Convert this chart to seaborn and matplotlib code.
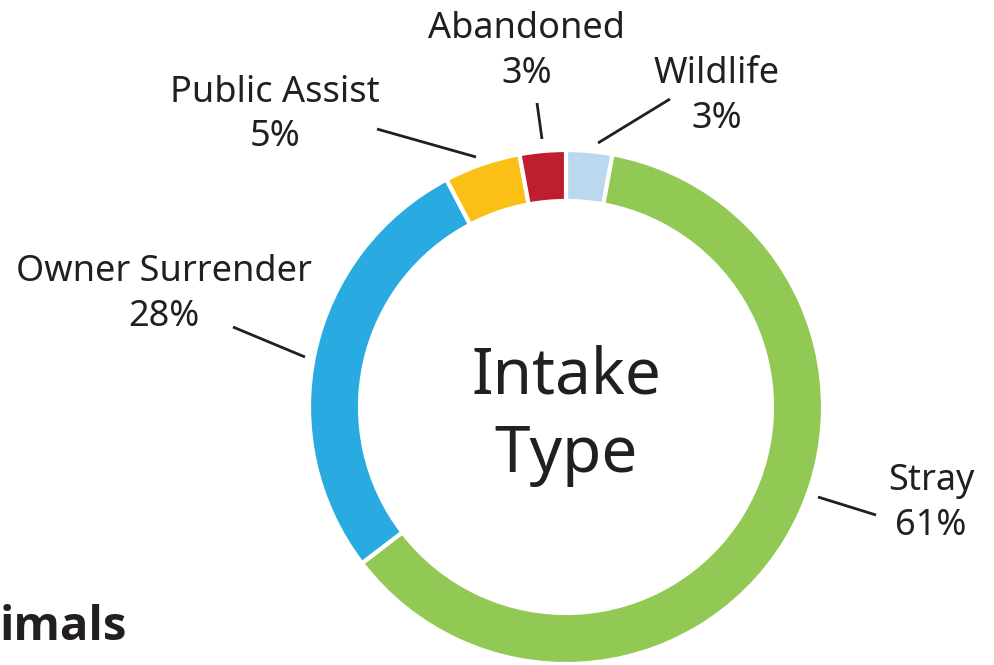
import matplotlib
matplotlib.use("Agg")
import matplotlib.pyplot as plt
import seaborn as sns

# ---- data ----
categories = ["Wildlife", "Stray", "Owner Surrender", "Public Assist", "Abandoned"]
values = [2.9, 61.7, 27.7, 4.8, 2.9]
pct_labels = ["3%", "61%", "28%", "5%", "3%"]
colors = ["#BBD8EE", "#92C955", "#29ABE2", "#FBC016", "#BE1E2D"]
center_title = ["Intake", "Type"]
corner_title = "imals"

sns.set_theme(style="white")
plt.rcParams["font.family"] = ["Noto Sans", "DejaVu Sans"]
TXT = "#231F20"

W, H = 994, 665
fig = plt.figure(figsize=(W / 100, H / 100), dpi=100)
ax = fig.add_axes([0, 0, 1, 1])
ax.set_xlim(0, W)
ax.set_ylim(H, 0)
ax.set_aspect("equal")
ax.axis("off")

pax = fig.add_axes([0, 0, 1, 1])
cx, cy, R, ring = 566, H - 407, 257, 51
pax.pie(values, colors=colors, startangle=90, counterclock=False,
        center=(cx, cy), radius=R, frame=True,
        wedgeprops=dict(width=ring, edgecolor="white", linewidth=3))
pax.set_xlim(0, W)
pax.set_ylim(0, H)
pax.set_aspect("equal")
pax.axis("off")

label_pos = {
    "Wildlife": (717, 83, 128),
    "Stray": (931, 490, 535),
    "Owner Surrender": (164, 281, 326),
    "Public Assist": (275, 102, 146),
    "Abandoned": (527, 38, 83),
}
leaders = {
    "Wildlife": ((670, 99), (598, 143)),
    "Stray": ((818, 497), (876, 515)),
    "Owner Surrender": ((233, 327), (305, 357)),
    "Public Assist": ((377, 129), (476, 157)),
    "Abandoned": ((537, 103), (542, 139)),
}
for name, pct in zip(categories, pct_labels):
    x, y1, y2 = label_pos[name]
    ax.text(x, y1, name, ha="center", va="baseline", fontsize=26, color=TXT)
    ax.text(x, y2, pct, ha="center", va="baseline", fontsize=26, color=TXT)
    (x0, y0), (x1, yy1) = leaders[name]
    ax.plot([x0, x1], [y0, yy1], color=TXT, lw=2, solid_capstyle="butt")

ax.text(cx, 394, center_title[0], ha="center", va="baseline", fontsize=46, color=TXT)
ax.text(cx, 472, center_title[1], ha="center", va="baseline", fontsize=46, color=TXT)

ax.text(127, 640, corner_title, ha="right", va="baseline", fontsize=34,
        fontweight="bold", color=TXT,
        family=["Open Sans", "Lato", "DejaVu Sans"])

fig.savefig("out.png", dpi=100, facecolor="white")
